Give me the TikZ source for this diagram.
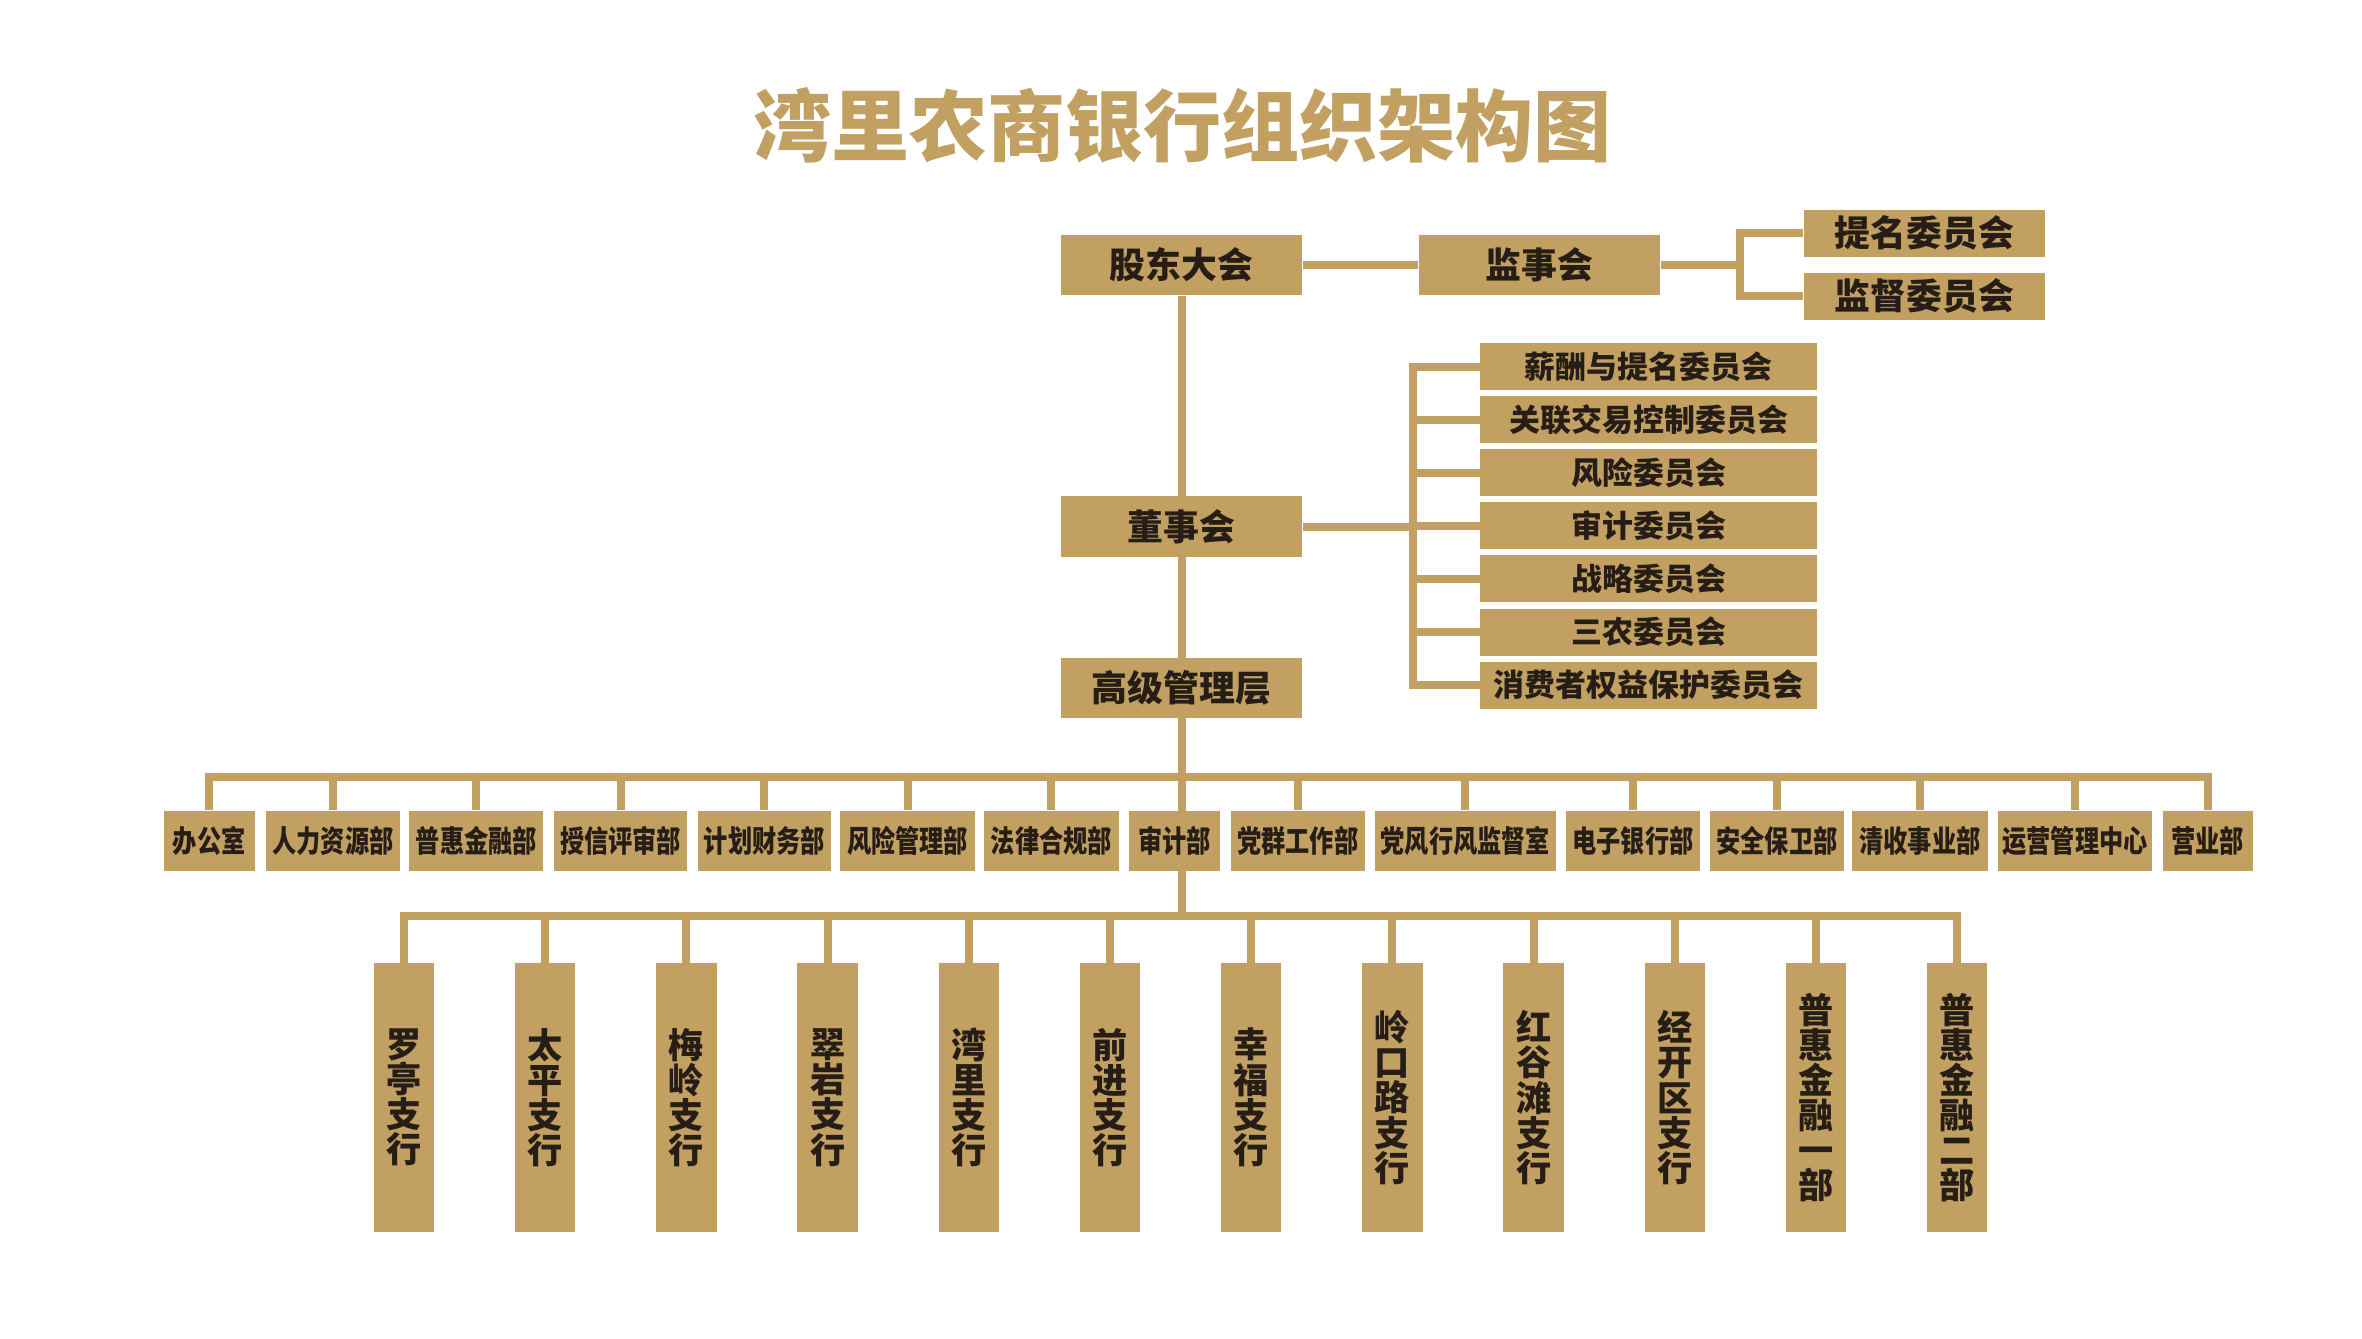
\documentclass[tikz,border=0pt]{standalone}
\usepackage{fontspec}
\usepackage{graphicx}
\newfontfamily\cjk{Noto Sans CJK SC}
\definecolor{gold}{RGB}{194,160,98}
\definecolor{ink}{RGB}{38,30,22}
\pgfdeclarelayer{background}
\pgfsetlayers{background,main}
\newcommand\condtxt[1]{\scalebox{0.8}[1]{#1}}
\tikzset{
  box/.style={fill=gold, draw=none, inner sep=0pt, text=ink},
  topbox/.style={box, minimum width=2.41cm, minimum height=0.605cm, font=\cjk\bfseries\fontsize{10.2pt}{12pt}\selectfont},
  subbox/.style={box, minimum width=2.41cm, minimum height=0.47cm, font=\cjk\bfseries\fontsize{10.2pt}{12pt}\selectfont},
  combox/.style={box, minimum width=3.365cm, minimum height=0.47cm, font=\cjk\bfseries\fontsize{8.8pt}{10pt}\selectfont},
  deptbox/.style={box, minimum height=0.60cm, font=\cjk\bfseries\fontsize{8.6pt}{10pt}\selectfont},
  branchbox/.style={box, minimum width=0.605cm, minimum height=2.68cm, align=center, font=\cjk\bfseries\fontsize{10pt}{10pt}\selectfont},
  link/.style={draw=gold, line width=0.08cm, line join=miter},
  titlestyle/.style={text=gold, inner sep=0pt, anchor=base, font=\cjk\bfseries\fontsize{22.2pt}{26pt}\selectfont}
}
\begin{document}
\begin{tikzpicture}[x=0.01cm, y=-0.01cm]
\useasboundingbox (0,0) rectangle (2362,1338);

% title
\node[titlestyle] (title) at (1182.5,155) {湾里农商银行组织架构图};

% top level
\node[topbox] (gd) at (1181.5,264.8) {股东大会};
\node[topbox] (js) at (1539.5,264.8) {监事会};
\node[subbox] (t1) at (1924.5,233.2) {提名委员会};
\node[subbox] (t2) at (1924.5,296.4) {监督委员会};
\node[topbox] (ds) at (1181.5,526.5) {董事会};
\node[topbox] (gg) at (1181.5,688) {高级管理层};

% committees
\node[combox] (c1) at (1648.7,366.5) {薪酬与提名委员会};
\node[combox] (c2) at (1648.7,419.6) {关联交易控制委员会};
\node[combox] (c3) at (1648.7,472.7) {风险委员会};
\node[combox] (c4) at (1648.7,525.8) {审计委员会};
\node[combox] (c5) at (1648.7,578.9) {战略委员会};
\node[combox] (c6) at (1648.7,632.0) {三农委员会};
\node[combox] (c7) at (1648.7,685.1) {消费者权益保护委员会};

% departments
\node[deptbox, minimum width=0.91cm]  (d1)  at (209.2,841)  {\condtxt{办公室}};
\node[deptbox, minimum width=1.34cm]  (d2)  at (333.0,841)  {\condtxt{人力资源部}};
\node[deptbox, minimum width=1.34cm]  (d3)  at (476.3,841)  {\condtxt{普惠金融部}};
\node[deptbox, minimum width=1.33cm]  (d4)  at (620.5,841)  {\condtxt{授信评审部}};
\node[deptbox, minimum width=1.33cm]  (d5)  at (764.4,841)  {\condtxt{计划财务部}};
\node[deptbox, minimum width=1.35cm]  (d6)  at (907.5,841)  {\condtxt{风险管理部}};
\node[deptbox, minimum width=1.346cm] (d7)  at (1051.3,841) {\condtxt{法律合规部}};
\node[deptbox, minimum width=0.91cm]  (d8)  at (1174.5,841) {\condtxt{审计部}};
\node[deptbox, minimum width=1.34cm]  (d9)  at (1297.8,841) {\condtxt{党群工作部}};
\node[deptbox, minimum width=1.81cm]  (d10) at (1465.3,841) {\condtxt{党风行风监督室}};
\node[deptbox, minimum width=1.34cm]  (d11) at (1633.0,841) {\condtxt{电子银行部}};
\node[deptbox, minimum width=1.34cm]  (d12) at (1777.0,841) {\condtxt{安全保卫部}};
\node[deptbox, minimum width=1.35cm]  (d13) at (1920.0,841) {\condtxt{清收事业部}};
\node[deptbox, minimum width=1.54cm]  (d14) at (2075.0,841) {\condtxt{运营管理中心}};
\node[deptbox, minimum width=0.90cm]  (d15) at (2207.6,841) {\condtxt{营业部}};

% branches
\node[branchbox] (b1)  at (404.0,1097.5)  {罗\\亭\\支\\行};
\node[branchbox] (b2)  at (545.2,1097.5)  {太\\平\\支\\行};
\node[branchbox] (b3)  at (686.4,1097.5)  {梅\\岭\\支\\行};
\node[branchbox] (b4)  at (827.6,1097.5)  {翠\\岩\\支\\行};
\node[branchbox] (b5)  at (968.8,1097.5)  {湾\\里\\支\\行};
\node[branchbox] (b6)  at (1110.0,1097.5) {前\\进\\支\\行};
\node[branchbox] (b7)  at (1251.2,1097.5) {幸\\福\\支\\行};
\node[branchbox] (b8)  at (1392.4,1097.5) {岭\\口\\路\\支\\行};
\node[branchbox] (b9)  at (1533.6,1097.5) {红\\谷\\滩\\支\\行};
\node[branchbox] (b10) at (1674.8,1097.5) {经\\开\\区\\支\\行};
\node[branchbox] (b11) at (1816.0,1097.5) {普\\惠\\金\\融\\一\\部};
\node[branchbox] (b12) at (1957.2,1097.5) {普\\惠\\金\\融\\二\\部};

% junction points
\coordinate (sbr) at (1739.5,264.8);
\coordinate (cbr) at (1413,526.5);
\coordinate (dbus) at (1181.5,777);
\coordinate (bbus) at (1181.5,915.5);

\begin{pgfonlayer}{background}
  \fill[white] (0,0) rectangle (2362,1338);
  % trunk
  \draw[link] (gd.south) -- (bbus);
  % supervisory board
  \draw[link] (gd.east) -- (js.west);
  \draw[link] (js.east) -- (sbr);
  \draw[link] (t1.west) -- (t1.west -| sbr) -- (t2.west -| sbr) -- (t2.west);
  % committees
  \draw[link] (ds.east) -- (cbr);
  \draw[link] (c1.west) -- (c1.west -| cbr) -- (c7.west -| cbr) -- (c7.west);
  \foreach \c in {c2,c3,c4,c5,c6} { \draw[link] (\c.west) -- (\c.west -| cbr); }
  % departments
  \draw[link] (d1.north) -- (d1.north |- dbus) -- (d15.north |- dbus) -- (d15.north);
  \foreach \d in {d2,d3,d4,d5,d6,d7,d9,d10,d11,d12,d13,d14} { \draw[link] (\d.north) -- (\d.north |- dbus); }
  % branches
  \draw[link] (b1.north) -- (b1.north |- bbus) -- (b12.north |- bbus) -- (b12.north);
  \foreach \b in {b2,b3,b4,b5,b6,b7,b8,b9,b10,b11} { \draw[link] (\b.north) -- (\b.north |- bbus); }
\end{pgfonlayer}
\end{tikzpicture}
\end{document}
